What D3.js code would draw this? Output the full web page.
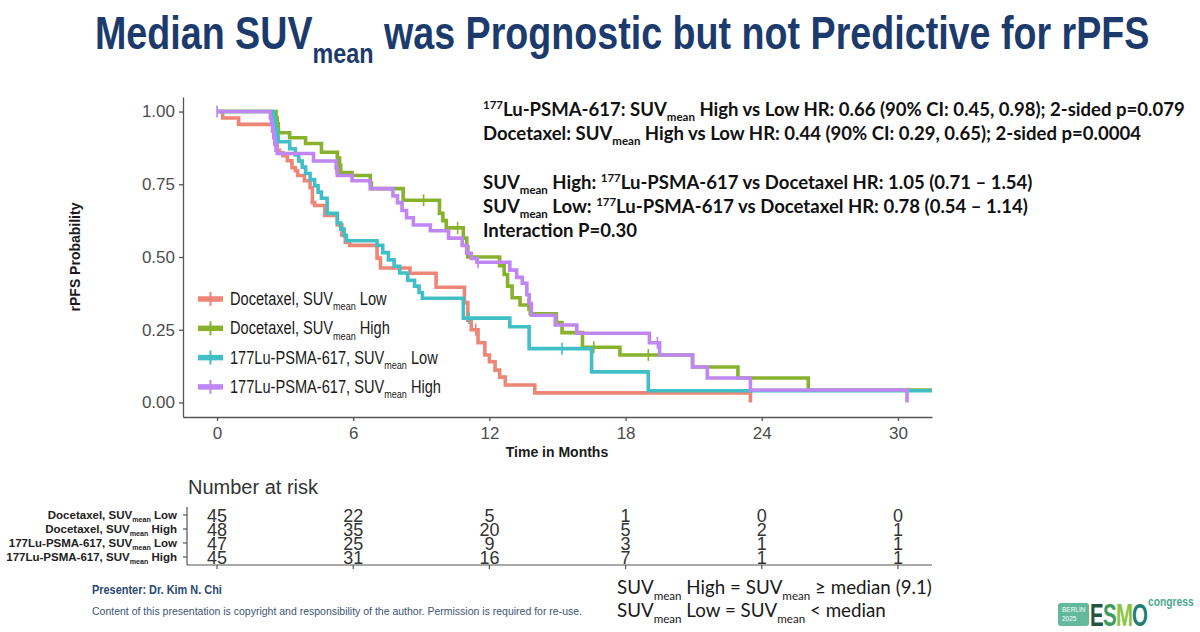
<!DOCTYPE html>
<html lang="en">
<head>
<meta charset="UTF-8">
<title>Median SUVmean was Prognostic but not Predictive for rPFS</title>
<script src="https://d3js.org/d3.v7.min.js"></script>
<style>
  body { margin: 0; background: #fff; }
  svg { display: block; }
</style>
</head>
<body>
<svg width="1200" height="632"></svg>
<script>
// ---- data ----
// Kaplan-Meier steps: [month, probability after the drop]
const docLowSteps = [[0.25,0.978],[0.95,0.956],[2.45,0.933],[2.5,0.911],[2.55,0.889],[2.65,0.867],[2.75,0.858],
  [2.9,0.848],[3.1,0.831],[3.3,0.807],[3.45,0.797],[3.55,0.78],[3.85,0.762],[4.1,0.738],[4.2,0.687],[4.3,0.677],
  [4.75,0.643],[5.3,0.61],[5.5,0.575],[5.65,0.55],[5.85,0.54],[7.05,0.496],[7.2,0.462],[8.5,0.444],[9.65,0.396],
  [10.9,0.343],[11.05,0.283],[11.2,0.25],[11.5,0.205],[11.8,0.163],[12.0,0.14],[12.25,0.111],[12.45,0.087],
  [12.7,0.06],[14.0,0.033],[23.5,0]];
const docLowEnd = 23.5;
const docLowCensor = [11.4];

const docHighSteps = [[2.6,0.979],[2.65,0.958],[2.7,0.927],[3.2,0.91],[3.9,0.89],[4.6,0.86],[5.3,0.84],[5.4,0.815],
  [5.45,0.79],[5.95,0.78],[6.75,0.755],[6.8,0.735],[8.2,0.695],[9.8,0.65],[9.95,0.625],[10.1,0.6],[10.85,0.565],
  [11.0,0.535],[11.05,0.5],[12.45,0.47],[12.65,0.44],[12.8,0.4],[13.0,0.36],[13.35,0.335],[13.8,0.305],
  [14.95,0.275],[15.2,0.24],[16.1,0.19],[17.75,0.163],[20.95,0.122],[22.95,0.084],[26.05,0.043]];
const docHighEnd = 31.5;
const docHighCensor = [9.1, 10.6, 11.0, 13.7, 16.6, 19.0];

const luLowSteps = [[2.5,0.979],[2.55,0.957],[2.6,0.936],[2.65,0.915],[2.7,0.896],[3.2,0.872],[3.45,0.851],
  [3.6,0.83],[3.75,0.809],[3.9,0.787],[4.1,0.766],[4.3,0.745],[4.45,0.723],[4.6,0.702],[4.85,0.65],[5.3,0.617],
  [5.45,0.596],[5.6,0.574],[5.7,0.556],[7.05,0.54],[7.3,0.515],[7.55,0.49],[7.8,0.468],[8.05,0.445],[8.4,0.42],
  [8.7,0.4],[8.9,0.378],[9.05,0.358],[10.85,0.29],[12.9,0.26],[13.75,0.185],[16.5,0.105],[19.0,0.04]];
const luLowEnd = 31.5;
const luLowCensor = [11.1, 15.2];

const luHighSteps = [[2.35,0.978],[2.4,0.956],[2.45,0.933],[2.5,0.911],[2.55,0.889],[2.6,0.867],[2.65,0.856],
  [4.25,0.83],[5.25,0.805],[5.3,0.78],[5.95,0.762],[6.75,0.735],[7.75,0.71],[7.95,0.687],[8.15,0.66],[8.35,0.635],
  [8.65,0.61],[9.4,0.59],[10.2,0.565],[10.8,0.54],[11.0,0.513],[11.2,0.495],[11.45,0.482],[12.9,0.455],
  [13.2,0.43],[13.45,0.41],[13.65,0.37],[13.75,0.34],[13.85,0.3],[14.9,0.266],[15.85,0.238],[19.05,0.205],
  [19.5,0.163],[20.95,0.122],[21.6,0.084],[23.5,0.043],[30.4,0]];
const luHighEnd = 30.4;
const luHighCensor = [0, 5.25, 11.5, 19.4];

const seriesNames = ["Docetaxel, SUVmean Low", "Docetaxel, SUVmean High",
                     "177Lu-PSMA-617, SUVmean Low", "177Lu-PSMA-617, SUVmean High"];
const seriesColors = ["#EE8678", "#88B22E", "#40C0C6", "#BF86F4"];

const yTicks = [0, 0.25, 0.5, 0.75, 1];
const xTicks = [0, 6, 12, 18, 24, 30];

// number at risk
const riskTimes = [0, 6, 12, 18, 24, 30];
const riskDocLow = [45, 22, 5, 1, 0, 0];
const riskDocHigh = [48, 35, 20, 5, 2, 1];
const riskLuLow = [47, 25, 9, 3, 1, 1];
const riskLuHigh = [45, 31, 16, 7, 1, 1];

const series = [
  { steps: docLowSteps, end: docLowEnd, censor: docLowCensor, risk: riskDocLow },
  { steps: docHighSteps, end: docHighEnd, censor: docHighCensor, risk: riskDocHigh },
  { steps: luLowSteps, end: luLowEnd, censor: luLowCensor, risk: riskLuLow },
  { steps: luHighSteps, end: luHighEnd, censor: luHighCensor, risk: riskLuHigh }
];
series.forEach((s, i) => { s.name = seriesNames[i]; s.color = seriesColors[i]; });

// ---- helpers ----
const svg = d3.select("svg");
const SANS = "'Liberation Sans', Arial, sans-serif";
const CAL = "Lato, 'Open Sans', sans-serif";

// split "SUVmean" into text + subscript parts
function subParts(str) {
  const out = [];
  str.split("SUVmean").forEach((p, i, arr) => {
    if (p) out.push([p]);
    if (i < arr.length - 1) { out.push(["SUV"]); out.push(["mean", "sub"]); }
  });
  return out;
}

// text with sub/superscript tspans
function rich(g, x0, y0, parts, size, attrs) {
  const t = g.append("text").attr("x", x0).attr("y", y0).attr("font-size", size);
  Object.entries(attrs || {}).forEach(([k, v]) => t.attr(k, v));
  let off = 0;
  parts.forEach(([str, kind]) => {
    const ts = t.append("tspan").text(str);
    let target = 0;
    if (kind === "sub") { ts.attr("font-size", size * 0.62); target = size * 0.3; }
    if (kind === "sup") { ts.attr("font-size", size * 0.62); target = -size * 0.38; }
    if (target !== off) ts.attr("dy", target - off);
    off = target;
  });
  return t;
}

// squeeze/stretch a start-anchored text to a given width
function fitWidth(t, x0, width) {
  const w = t.node().getBBox().width;
  const k = width / w;
  t.attr("transform", `translate(${x0},0) scale(${k},1) translate(${-x0},0)`);
  return k;
}
function scaleX(t, x0, k) {
  return t.attr("transform", `translate(${x0},0) scale(${k},1) translate(${-x0},0)`);
}

// ---- title ----
const title = rich(svg, 95, 49, [["Median SUV"], ["mean", "sub"], [" was Prognostic but not Predictive for rPFS"]], 46,
  { "font-family": SANS, "font-weight": "bold", fill: "#1C3B6C" });
fitWidth(title, 95, 1055);

// ---- plot ----
const x = d3.scaleLinear().domain([-1.5, 31.5]).range([183, 932]);
const y = d3.scaleLinear().domain([-0.05, 1.05]).range([417, 97]);

const yAxis = svg.append("g").attr("transform", "translate(183,0)")
  .call(d3.axisLeft(y).tickValues(yTicks).tickFormat(d3.format(".2f")).tickSize(4).tickSizeOuter(0).tickPadding(4));
const xAxis = svg.append("g").attr("transform", "translate(0,417)")
  .call(d3.axisBottom(x).tickValues(xTicks).tickSize(4).tickSizeOuter(0).tickPadding(6));
[yAxis, xAxis].forEach(a => {
  a.selectAll("path, line").attr("stroke", "#555").attr("stroke-width", 1.3);
  a.selectAll("text").attr("font-family", SANS).attr("font-size", 17).attr("fill", "#4d4d4d");
});

svg.append("text").attr("x", 557).attr("y", 457).attr("text-anchor", "middle")
  .attr("font-family", SANS).attr("font-weight", "bold").attr("font-size", 14).attr("fill", "#1a1a1a")
  .text("Time in Months");
svg.append("text").attr("transform", "translate(80,257) rotate(-90)").attr("text-anchor", "middle")
  .attr("font-family", SANS).attr("font-weight", "bold").attr("font-size", 14).attr("fill", "#1a1a1a")
  .text("rPFS Probability");

const line = d3.line().x(d => x(d[0])).y(d => y(d[1])).curve(d3.curveStepAfter);

function survAt(s, t) {
  let v = 1;
  s.steps.forEach(([st, sv]) => { if (st <= t) v = sv; });
  return v;
}

const curves = svg.append("g");
series.forEach(s => {
  const pts = [[0, 1], ...s.steps];
  const last = pts[pts.length - 1];
  if (last[0] < s.end) pts.push([s.end, last[1]]);
  curves.append("path").datum(pts).attr("d", line)
    .attr("fill", "none").attr("stroke", s.color).attr("stroke-width", 3.6)
    .attr("stroke-linejoin", "miter").attr("stroke-linecap", "butt");
  curves.selectAll(null).data(s.censor).enter().append("line")
    .attr("x1", d => x(d)).attr("x2", d => x(d))
    .attr("y1", d => y(survAt(s, d)) - 6).attr("y2", d => y(survAt(s, d)) + 6)
    .attr("stroke", s.color).attr("stroke-width", 1.6);
});

// legend
const legend = svg.append("g");
let legK = null;
series.forEach((s, i) => {
  const ly = 299 + i * 29.3;
  legend.append("line").attr("x1", 198).attr("x2", 223).attr("y1", ly).attr("y2", ly)
    .attr("stroke", s.color).attr("stroke-width", 5.5);
  legend.append("line").attr("x1", 210.5).attr("x2", 210.5).attr("y1", ly - 7).attr("y2", ly + 7)
    .attr("stroke", s.color).attr("stroke-width", 2);
  const t = rich(legend, 230, ly + 6, subParts(s.name), 17.5, { "font-family": SANS, fill: "#1a1a1a" });
  if (i === 0) legK = fitWidth(t, 230, 157);
  else scaleX(t, 230, legK);
});

// ---- annotation block ----
const ann = svg.append("g");
const annLines = [
  [116, [["177", "sup"], ["Lu-PSMA-617: SUV"], ["mean", "sub"], [" High vs Low HR: 0.66 (90% CI: 0.45, 0.98); 2-sided p=0.079"]]],
  [140, [["Docetaxel: SUV"], ["mean", "sub"], [" High vs Low HR: 0.44 (90% CI: 0.29, 0.65); 2-sided p=0.0004"]]],
  [189, [["SUV"], ["mean", "sub"], [" High: "], ["177", "sup"], ["Lu-PSMA-617 vs Docetaxel HR: 1.05 (0.71 \u2013 1.54)"]]],
  [213, [["SUV"], ["mean", "sub"], [" Low: "], ["177", "sup"], ["Lu-PSMA-617 vs Docetaxel HR: 0.78 (0.54 \u2013 1.14)"]]],
  [237, [["Interaction P=0.30"]]]
];
let annK = null;
annLines.forEach(([ly, parts], i) => {
  const t = rich(ann, 483, ly, parts, 18, { "font-family": CAL, "font-weight": 700, fill: "#111" });
  if (i === 0) annK = fitWidth(t, 483, 702);
  else scaleX(t, 483, annK);
});

// ---- number at risk table ----
svg.append("text").attr("x", 188).attr("y", 494).attr("font-family", SANS).attr("font-size", 20)
  .attr("fill", "#333").text("Number at risk");
const rowY = [515, 529, 543, 557];
const risk = svg.append("g");
risk.append("line").attr("x1", 187).attr("x2", 187).attr("y1", 507).attr("y2", 565)
  .attr("stroke", "#555").attr("stroke-width", 1.2);
risk.append("line").attr("x1", 187).attr("x2", 932).attr("y1", 565).attr("y2", 565)
  .attr("stroke", "#555").attr("stroke-width", 1.2);
riskTimes.forEach(t => {
  risk.append("line").attr("x1", x(t)).attr("x2", x(t)).attr("y1", 565).attr("y2", 569)
    .attr("stroke", "#555").attr("stroke-width", 1.2);
});
series.forEach((s, i) => {
  const ry = rowY[i];
  risk.append("line").attr("x1", 183).attr("x2", 187).attr("y1", ry).attr("y2", ry)
    .attr("stroke", "#555").attr("stroke-width", 1.2);
  rich(risk, 177, ry + 4, subParts(s.name), 11.5,
    { "font-family": SANS, "font-weight": "bold", fill: "#222", "text-anchor": "end" });
  risk.selectAll(null).data(s.risk).enter().append("text")
    .attr("x", (d, j) => x(riskTimes[j])).attr("y", ry + 6.5)
    .attr("text-anchor", "middle").attr("font-family", SANS).attr("font-size", 18).attr("fill", "#333")
    .text(d => d);
});

// ---- footers ----
const pres = svg.append("text").attr("x", 92).attr("y", 594).attr("font-family", SANS).attr("font-weight", "bold")
  .attr("font-size", 12).attr("fill", "#2B4874").text("Presenter: Dr. Kim N. Chi");
fitWidth(pres, 92, 130);
const copy = svg.append("text").attr("x", 92).attr("y", 615).attr("font-family", SANS)
  .attr("font-size", 11).attr("fill", "#3E5575")
  .text("Content of this presentation is copyright and responsibility of the author. Permission is required for re-use.");
fitWidth(copy, 92, 490);

const def1 = rich(svg, 617, 594, [["SUV"], ["mean", "sub"], [" High = SUV"], ["mean", "sub"], [" \u2265 median (9.1)"]], 20,
  { "font-family": CAL, fill: "#1a1a1a" });
const defK = fitWidth(def1, 617, 315);
scaleX(rich(svg, 617, 617, [["SUV"], ["mean", "sub"], [" Low = SUV"], ["mean", "sub"], [" < median"]], 20,
  { "font-family": CAL, fill: "#1a1a1a" }), 617, defK);

// ---- ESMO congress badge ----
const logo = svg.append("g");
logo.append("rect").attr("x", 1058).attr("y", 603).attr("width", 31).attr("height", 23).attr("rx", 3)
  .attr("fill", "#62B99C");
logo.append("text").attr("x", 1062).attr("y", 612).attr("font-family", SANS).attr("font-size", 6.5)
  .attr("fill", "#fff").text("BERLIN");
logo.append("text").attr("x", 1062).attr("y", 621).attr("font-family", SANS).attr("font-size", 6.5)
  .attr("fill", "#fff").text("2025");
[["E", "#24533E", 1090], ["S", "#3E9A62", 1103], ["M", "#8CC43F", 1116], ["O", "#1E7F70", 1132]].forEach(([c, col, lx]) => {
  scaleX(logo.append("text").attr("x", lx).attr("y", 626).attr("font-family", SANS).attr("font-weight", "bold")
    .attr("font-size", 31).attr("fill", col).text(c), lx, 0.66);
});
const cong = logo.append("text").attr("x", 1148).attr("y", 606).attr("font-family", SANS).attr("font-weight", "bold")
  .attr("font-size", 12).attr("fill", "#4AA88E").text("congress");
fitWidth(cong, 1148, 46);
</script>
</body>
</html>
